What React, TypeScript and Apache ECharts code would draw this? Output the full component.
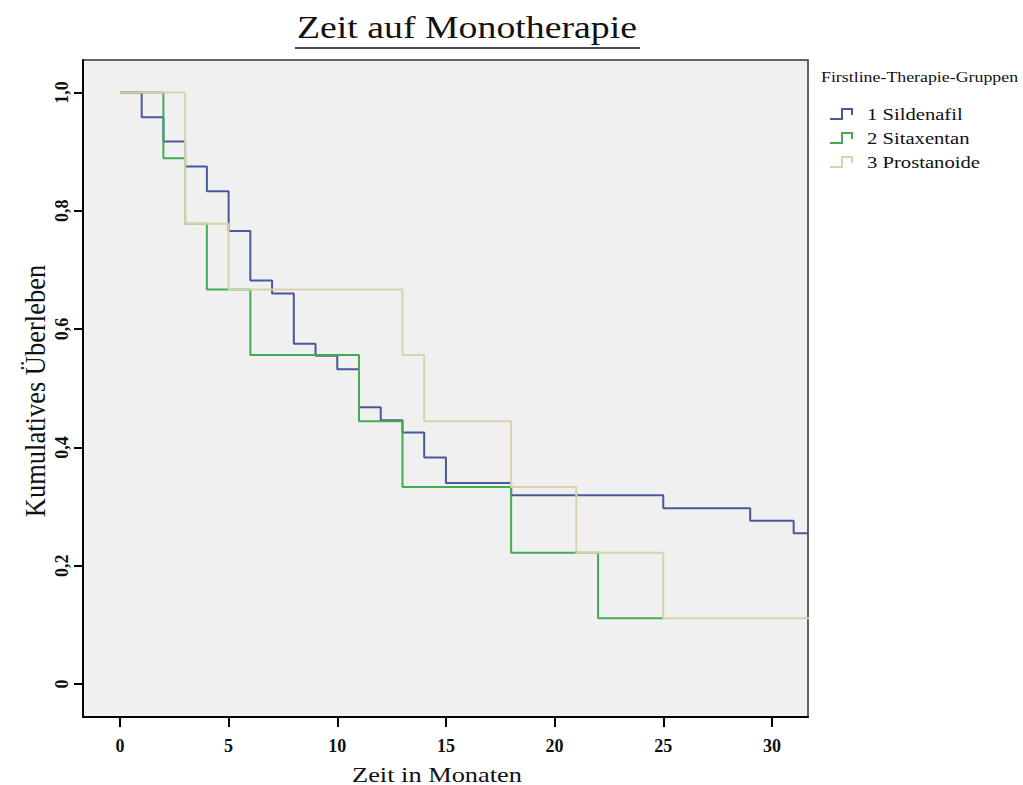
import React, { useEffect, useRef } from "react";
import * as echarts from "echarts";

// Kaplan-Meier estimates per first-line therapy group (months, cumulative survival)
const groupNames = ["1 Sildenafil", "2 Sitaxentan", "3 Prostanoide"];

const sildenafilTimes = [0, 1, 2, 3, 4, 5, 6, 7, 8, 9, 10, 11, 12, 13, 14, 15, 18, 25, 29, 31, 32];
const sildenafilSurv = [1.0, 0.958, 0.917, 0.875, 0.833, 0.766, 0.682, 0.66, 0.575, 0.555, 0.532, 0.468, 0.446, 0.425, 0.383, 0.34, 0.319, 0.297, 0.276, 0.255, 0.255];

const sitaxentanTimes = [0, 2, 3, 4, 6, 11, 13, 18, 22, 25];
const sitaxentanSurv = [1.0, 0.889, 0.778, 0.667, 0.556, 0.444, 0.333, 0.222, 0.111, 0.111];

const prostanoideTimes = [0, 3, 5, 13, 14, 18, 21, 25, 32];
const prostanoideSurv = [1.0, 0.778, 0.667, 0.556, 0.444, 0.333, 0.222, 0.111, 0.111];

const xTicks = [0, 5, 10, 15, 20, 25, 30];
const yTicks = [0, 0.2, 0.4, 0.6, 0.8, 1.0];

const colors = ["#48589c", "#43ac50", "#d8d3ab"];
const FONT = "Liberation Serif";

function pairs(t: number[], s: number[]) {
  return t.map((v, i) => [v, s[i]]);
}

function label(text: string, x: number, y: number, size: number, extra: any = {}, align = "left") {
  return {
    type: "text",
    x,
    y,
    ...extra,
    style: {
      text,
      x: 0,
      y: 0,
      align,
      verticalAlign: "middle",
      fontFamily: FONT,
      fontSize: size,
      fill: "#111",
    },
  };
}

export default function App() {
  const ref = useRef<HTMLDivElement>(null);

  useEffect(() => {
    document.body.style.margin = "0";
    const chart = echarts.init(ref.current!, null, { renderer: "svg" });

    const seriesData = [
      pairs(sildenafilTimes, sildenafilSurv),
      pairs(sitaxentanTimes, sitaxentanSurv),
      pairs(prostanoideTimes, prostanoideSurv),
    ];

    const legendItems: any[] = [];
    groupNames.forEach((name, i) => {
      const dy = i * 24;
      legendItems.push({
        type: "polyline",
        shape: {
          points: [
            [830, 119 + dy],
            [842, 119 + dy],
            [842, 109 + dy],
            [852, 109 + dy],
            [852, 115 + dy],
          ],
        },
        style: { stroke: colors[i], lineWidth: 2, fill: "none" },
      });
      legendItems.push(label(name, 867, 114 + dy, 17.5, { scaleX: 1.18 }));
    });

    chart.setOption({
      animation: false,
      backgroundColor: "#ffffff",
      grid: {
        left: 83,
        right: 215,
        top: 60,
        bottom: 68,
        show: true,
        backgroundColor: "#f0f0f0",
        borderColor: "#333",
        borderWidth: 1.5,
      },
      xAxis: {
        type: "value",
        min: -1.7,
        max: 31.66,
        axisLine: { onZero: false, lineStyle: { color: "#000", width: 2 } },
        axisTick: {
          customValues: xTicks,
          length: 10,
          lineStyle: { color: "#000", width: 2 },
        },
        axisLabel: {
          customValues: xTicks,
          margin: 20,
          fontFamily: FONT,
          fontWeight: "bold",
          fontSize: 18,
          color: "#111",
        },
        splitLine: { show: false },
      },
      yAxis: {
        type: "value",
        min: -0.0558,
        max: 1.0549,
        axisLine: { onZero: false, lineStyle: { color: "#000", width: 2 } },
        axisTick: {
          customValues: yTicks,
          length: 9,
          lineStyle: { color: "#000", width: 2 },
        },
        axisLabel: {
          customValues: yTicks,
          rotate: 90,
          margin: 12,
          fontFamily: FONT,
          fontWeight: "bold",
          fontSize: 18,
          color: "#111",
          formatter: (v: number) => (v === 0 ? "0" : v.toFixed(1).replace(".", ",")),
        },
        splitLine: { show: false },
      },
      series: seriesData.map((data, i) => ({
        name: groupNames[i],
        type: "line",
        step: "end",
        symbol: "none",
        clip: true,
        data,
        lineStyle: { color: colors[i], width: 2 },
        itemStyle: { color: colors[i] },
        z: 2 + i,
      })),
      graphic: [
        label("Zeit auf Monotherapie", 467, 27, 31, { scaleX: 1.22 }, "center"),
        {
          type: "line",
          shape: { x1: 295, y1: 48, x2: 640, y2: 48 },
          style: { stroke: "#111", lineWidth: 1.5 },
        },
        label("Zeit in Monaten", 437, 774, 22, { scaleX: 1.2 }, "center"),
        label("Kumulatives Überleben", 35, 391, 26.5, { rotation: Math.PI / 2, scaleY: 1.1 }, "center"),
        label("Firstline-Therapie-Gruppen", 821, 78, 14.5, { scaleX: 1.23 }),
        ...legendItems,
      ],
    });

    return () => chart.dispose();
  }, []);

  return <div ref={ref} style={{ width: 1023, height: 785 }} />;
}
